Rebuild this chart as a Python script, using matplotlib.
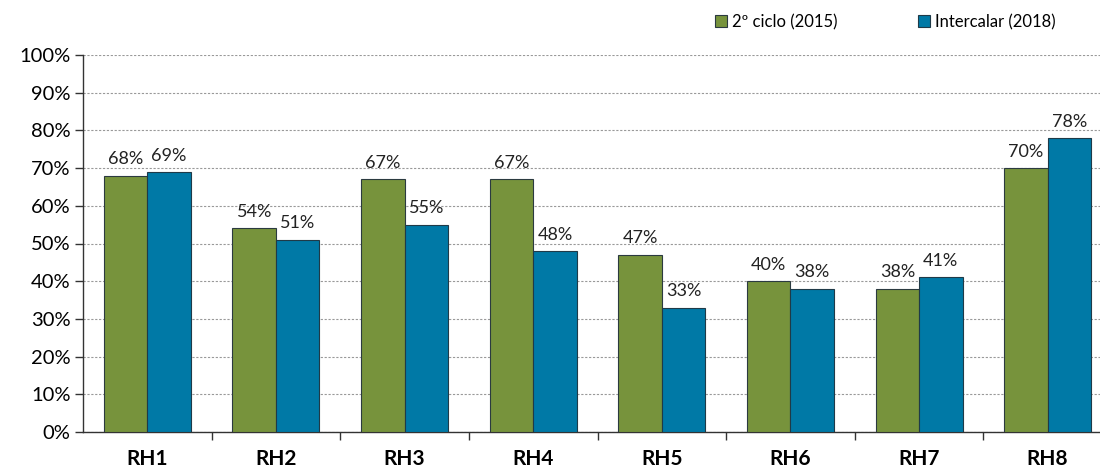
"""Bar chart comparing the 2nd cycle (2015) and intercalar (2018) shares per RH."""
import matplotlib.pyplot as plt
import numpy as np
from matplotlib.patches import Patch
from matplotlib.ticker import FuncFormatter, MultipleLocator

regions = ["RH1", "RH2", "RH3", "RH4", "RH5", "RH6", "RH7", "RH8"]
ciclo_2015 = [68, 54, 67, 67, 47, 40, 38, 70]
intercalar_2018 = [69, 51, 55, 48, 33, 38, 41, 78]
series_names = ["2º ciclo (2015)", "Intercalar (2018)"]

green = "#77933C"
blue = "#0079A6"

plt.rcParams["font.family"] = ["Lato", "DejaVu Sans"]

fig = plt.figure(figsize=(11, 4.68), dpi=100)
ax = fig.add_axes([83 / 1100, 36 / 468, 1029 / 1100, 377 / 468])

x = np.arange(len(regions))
w = 0.338
bars_a = ax.bar(x - w / 2, ciclo_2015, w, color=green, edgecolor="#2b3a40",
                linewidth=0.8, zorder=3)
bars_b = ax.bar(x + w / 2, intercalar_2018, w, color=blue, edgecolor="#1f3a48",
                linewidth=0.8, zorder=3)

for bars, vals in ((bars_a, ciclo_2015), (bars_b, intercalar_2018)):
    for b, v in zip(bars, vals):
        ax.annotate(f"{v}%", (b.get_x() + b.get_width() / 2, v),
                    xytext=(0, 6), textcoords="offset points",
                    ha="center", va="bottom", fontsize=13, color="#222222")

ax.set_xlim(-0.5, len(regions) - 0.5)
ax.set_ylim(0, 100)
ax.yaxis.set_major_locator(MultipleLocator(10))
ax.yaxis.set_major_formatter(FuncFormatter(lambda v, _: f"{v:.0f}%"))
ax.grid(axis="y", linestyle=(0, (2, 1.5)), color="#999999", linewidth=0.8, zorder=0)

ax.set_xticks(x)
ax.set_xticklabels(regions, fontsize=15, fontweight="bold")
ax.set_xticks(np.arange(0.5, len(regions) - 0.5), minor=True)
ax.tick_params(axis="x", which="major", length=0, pad=12)
ax.tick_params(axis="x", which="minor", length=6, width=1, color="#333333")
ax.tick_params(axis="y", length=6, width=1, labelsize=14.5, pad=3, color="#333333")

for side in ("top", "right"):
    ax.spines[side].set_visible(False)
for side in ("left", "bottom"):
    ax.spines[side].set_color("#333333")
    ax.spines[side].set_linewidth(1)

handles = [
    Patch(facecolor=green, edgecolor="#2b3a40", linewidth=0.8),
    Patch(facecolor=blue, edgecolor="#1f3a48", linewidth=0.8),
]
fig.legend(handles, series_names, loc="center", bbox_to_anchor=(0.805, 0.953),
           ncol=2, frameon=False, fontsize=12, handlelength=0.75,
           handleheight=0.75, handletextpad=0.3, columnspacing=4.8)

fig.savefig("out.png", dpi=100)
